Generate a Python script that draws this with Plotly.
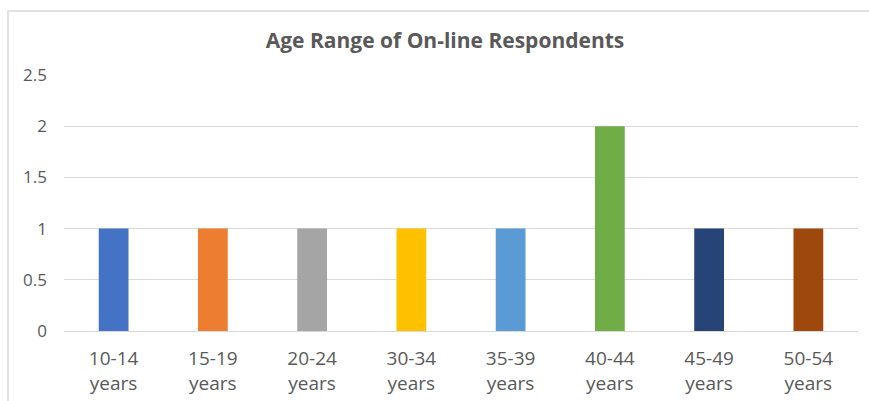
import plotly.graph_objects as go

# Respondent counts per age band
age_ranges = ["10-14<br>years", "15-19<br>years", "20-24<br>years", "30-34<br>years",
              "35-39<br>years", "40-44<br>years", "45-49<br>years", "50-54<br>years"]
respondents = [1, 1, 1, 1, 1, 2, 1, 1]
bar_colors = ["#4472C4", "#ED7D31", "#A5A5A5", "#FFC000",
              "#5B9BD5", "#70AD47", "#264478", "#9E480E"]
y_ticks = [0, 0.5, 1, 1.5, 2, 2.5]

W, H = 869, 401
ml, mr, mt, mb = 64, 11, 75, 70

fig = go.Figure(go.Bar(
    x=age_ranges,
    y=respondents,
    marker=dict(color=bar_colors, line=dict(width=0)),
))

font = "Open Sans, Noto Sans, sans-serif"
fig.update_layout(
    width=W, height=H,
    margin=dict(l=ml, r=mr, t=mt, b=mb),
    paper_bgcolor="white",
    plot_bgcolor="white",
    bargap=0.7,
    showlegend=False,
    title=dict(
        text="<b>Age Range of On-line Respondents</b>",
        x=445 / W, xanchor="center", xref="container",
        y=1 - 41 / H, yanchor="middle",
        font=dict(family=font, size=21, color="#595959"),
    ),
    font=dict(family=font, color="#595959"),
)

fig.update_xaxes(
    automargin=False,
    showgrid=False,
    showline=True, linecolor="#D9D9D9", linewidth=1,
    ticks="", tickfont=dict(size=19, color="#595959"),
    ticklabelstandoff=10,
)
fig.update_yaxes(
    automargin=False,
    range=[0, 2.5],
    tickvals=y_ticks,
    ticktext=[f"{v:g}" for v in y_ticks],
    showgrid=True, gridcolor="#D9D9D9", gridwidth=1,
    zeroline=False, showline=False,
    ticks="", tickfont=dict(size=17, color="#595959"),
    ticklabelstandoff=16,
)

# Chart frame (top and left edges visible)
pw = W - ml - mr
ph = H - mt - mb
fig.add_shape(
    type="rect", xref="paper", yref="paper",
    x0=(8 - ml) / pw, x1=(W + 20 - ml) / pw,
    y0=(H - mb - 430) / ph,
    y1=(H - mb - 11) / ph,
    line=dict(color="#D9D9D9", width=1.5),
    fillcolor="rgba(0,0,0,0)",
    layer="below",
)

fig.write_html("out.html")
